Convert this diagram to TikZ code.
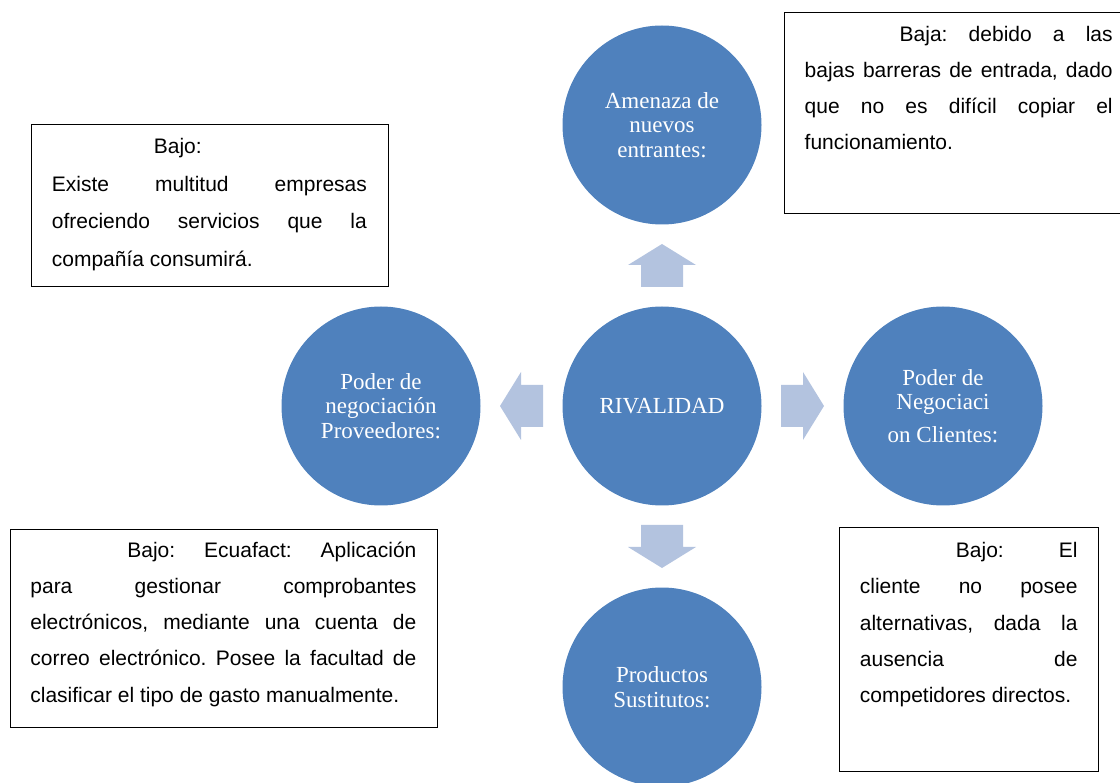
\documentclass[tikz,border=0pt]{standalone}
\usepackage{fontspec}
\newfontfamily\boxfont{Liberation Sans}
\newfontfamily\circfont{Liberation Serif}
\usetikzlibrary{calc}
\definecolor{circblue}{HTML}{4F81BD}
\definecolor{arrowfill}{HTML}{B3C3DF}
\newcommand\jline[1]{\makebox[\linewidth][s]{#1}\par}
\frenchspacing
\begin{document}
\begin{tikzpicture}[x=1pt,y=-1pt,
  circ/.style={circle,fill=circblue,minimum size=199pt,inner sep=0pt,text=white,align=center,
    font=\circfont\fontsize{23}{24.5}\selectfont},
  txtbox/.style={draw=black,line width=0.8pt,anchor=north west,inner ysep=0pt,inner xsep=20.5pt,
    font=\boxfont\fontsize{21}{36.3}\selectfont},
  blockarrow/.pic={\fill[arrowfill] (-21.5,-21) -- (0.5,-21) -- (0.5,-34) -- (21.5,0) -- (0.5,34) -- (0.5,21) -- (-21.5,21) -- cycle;}]

\useasboundingbox (0,0) rectangle (1120,783);
\clip (0,0) rectangle (1120,783);

\node[circ] (riv) at (662,406) {RIVALIDAD};
\node[circ] (amen) at (662,125) {Amenaza de\\nuevos\\entrantes:};
\node[circ] (prov) at (381,406) {Poder de\\negociación\\Proveedores:};
\node[circ] (cli) at (943,406) {Poder de\\Negociaci\\[8pt]on Clientes:};
\node[circ] (sust) at (662,687) {Productos\\Sustitutos:};

\pic[rotate=90] at ($(riv)!0.5!(amen)$) {blockarrow};
\pic[rotate=180] at ($(riv)!0.5!(prov)$) {blockarrow};
\pic[rotate=0] at ($(riv)!0.5!(cli)$) {blockarrow};
\pic[rotate=270] at ($(riv)!0.5!(sust)$) {blockarrow};

\node[txtbox,inner xsep=21pt,font=\boxfont\fontsize{21}{37.5}\selectfont] (tprov) at (30.5,124)
  {\parbox[t][162pt][t]{315pt}{\rule{0pt}{29.3pt}\hspace*{102pt}Bajo:\par
   \jline{Existe multitud empresas}\jline{ofreciendo servicios que la}compañía consumirá.}};
\node[txtbox,inner xsep=20.3pt] (tamen) at (784,11.7)
  {\parbox[t][201.6pt][t]{308pt}{\rule{0pt}{29pt}\jline{\hspace*{95pt}Baja: debido a las}
   \jline{bajas barreras de entrada, dado}\jline{que no es difícil copiar el}funcionamiento.}};
\node[txtbox] (tsust) at (9.5,529)
  {\parbox[t][197.7pt][t]{386pt}{\rule{0pt}{27.7pt}\jline{\hspace*{97pt}Bajo: Ecuafact: Aplicación}
   \jline{para gestionar comprobantes}\jline{electrónicos, mediante una cuenta de}
   \jline{correo electrónico. Posee la facultad de}clasificar el tipo de gasto manualmente.}};
\node[txtbox] (tcli) at (839,527.3)
  {\parbox[t][243.4pt][t]{217.6pt}{\rule{0pt}{30pt}\jline{\hspace*{96pt}Bajo: El}
   \jline{cliente no posee}\jline{alternativas, dada la}\jline{ausencia de}competidores directos.}};

\end{tikzpicture}
\end{document}
